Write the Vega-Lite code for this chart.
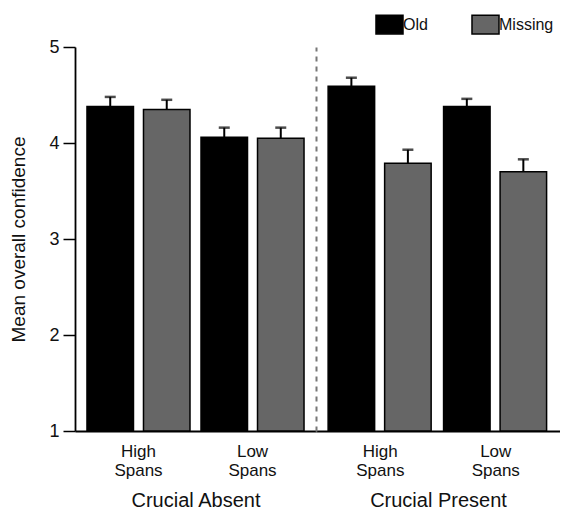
{
  "$schema": "https://vega.github.io/schema/vega-lite/v6.json",
  "datasets": {
    "d": [
      {"crucial": "Absent", "span": "High", "type": "Old", "mean": 4.38, "upper": 4.48},
      {"crucial": "Absent", "span": "High", "type": "Missing", "mean": 4.35, "upper": 4.45},
      {"crucial": "Absent", "span": "Low", "type": "Old", "mean": 4.06, "upper": 4.16},
      {"crucial": "Absent", "span": "Low", "type": "Missing", "mean": 4.05, "upper": 4.16},
      {"crucial": "Present", "span": "High", "type": "Old", "mean": 4.59, "upper": 4.68},
      {"crucial": "Present", "span": "High", "type": "Missing", "mean": 3.79, "upper": 3.93},
      {"crucial": "Present", "span": "Low", "type": "Old", "mean": 4.38, "upper": 4.46},
      {"crucial": "Present", "span": "Low", "type": "Missing", "mean": 3.70, "upper": 3.83}
    ]
  },
  "data": {"name": "d"},
  "padding": {"left": 9, "top": 13, "right": 0, "bottom": 2},
  "spacing": 0,
  "config": {
    "view": {"stroke": null},
    "font": "Liberation Sans",
    "axis": {"grid": false, "labelColor": "#111", "titleColor": "#111", "titleFontWeight": "normal"}
  },
  "hconcat": [
    {
      "width": 241,
      "height": 384,
      "transform": [{"filter": "datum.crucial === 'Absent'"}],
      "encoding": {
        "x": {
          "field": "span", "type": "nominal", "sort": ["High", "Low"],
          "scale": {"paddingInner": 0.0965, "paddingOuter": 0.105},
          "axis": {"title": "Crucial Absent", "labelExpr": "[datum.label, 'Spans']", "labelAngle": 0, "ticks": false,
                   "labelFontSize": 17, "labelLineHeight": 19, "labelPadding": 12, "titleFontSize": 20, "titlePadding": 12,
                   "domainColor": "#000", "domainWidth": 1.8}
        },
        "xOffset": {"field": "type", "type": "nominal", "sort": ["Old", "Missing"], "scale": {"paddingInner": 0.177}}
      },
      "layer": [
        {
          "mark": {"type": "bar", "stroke": "#000", "strokeWidth": 1.5},
          "encoding": {
            "y": {"field": "mean", "type": "quantitative",
                  "scale": {"domain": [1, 5], "zero": false, "nice": false},
                  "axis": {"values": [1, 2, 3, 4, 5], "format": "d", "tickSize": 12, "tickColor": "#000", "tickWidth": 1.5,
                           "labelFontSize": 18, "labelPadding": 4, "title": "Mean overall confidence",
                           "titleFontSize": 19, "titlePadding": 20, "domainColor": "#000", "domainWidth": 1.8}},
            "y2": {"datum": 1},
            "color": {"field": "type", "type": "nominal",
                      "scale": {"domain": ["Old", "Missing"], "range": ["#000000", "#666666"]},
                      "legend": {"orient": "none", "legendX": 303, "legendY": -34, "direction": "horizontal", "title": null,
                                 "symbolType": "M-1.3,-0.9L1.3,-0.9L1.3,0.9L-1.3,0.9Z", "symbolSize": 432,
                                 "symbolStrokeColor": "#000", "symbolStrokeWidth": 1.5, "symbolOpacity": 1,
                                 "labelFontSize": 16, "labelOffset": 2, "columnPadding": 40, "labelColor": "#111"}}
          }
        },
        {
          "mark": {"type": "rule", "color": "#000", "strokeWidth": 2},
          "encoding": {"y": {"field": "mean", "type": "quantitative"}, "y2": {"field": "upper"}}
        },
        {
          "mark": {"type": "tick", "color": "#000", "size": 11, "thickness": 2.5},
          "encoding": {"y": {"field": "upper", "type": "quantitative"}}
        }
      ]
    },
    {
      "width": 244,
      "height": 384,
      "transform": [{"filter": "datum.crucial === 'Present'"}],
      "encoding": {
        "x": {
          "field": "span", "type": "nominal", "sort": ["High", "Low"],
          "scale": {"paddingInner": 0.0965, "paddingOuter": 0.105},
          "axis": {"title": "Crucial Present", "labelExpr": "[datum.label, 'Spans']", "labelAngle": 0, "ticks": false,
                   "labelFontSize": 17, "labelLineHeight": 19, "labelPadding": 12, "titleFontSize": 20, "titlePadding": 12,
                   "domainColor": "#000", "domainWidth": 1.8}
        },
        "xOffset": {"field": "type", "type": "nominal", "sort": ["Old", "Missing"], "scale": {"paddingInner": 0.177}}
      },
      "layer": [
        {
          "mark": {"type": "bar", "stroke": "#000", "strokeWidth": 1.5},
          "encoding": {
            "y": {"field": "mean", "type": "quantitative",
                  "scale": {"domain": [1, 5], "zero": false, "nice": false},
                  "axis": {"labels": false, "ticks": false, "title": null, "domainDash": [5, 5],
                           "domainColor": "#777", "domainWidth": 2}},
            "y2": {"datum": 1},
            "color": {"field": "type", "type": "nominal",
                      "scale": {"domain": ["Old", "Missing"], "range": ["#000000", "#666666"]}}
          }
        },
        {
          "mark": {"type": "rule", "color": "#000", "strokeWidth": 2},
          "encoding": {"y": {"field": "mean", "type": "quantitative"}, "y2": {"field": "upper"}}
        },
        {
          "mark": {"type": "tick", "color": "#000", "size": 11, "thickness": 2.5},
          "encoding": {"y": {"field": "upper", "type": "quantitative"}}
        }
      ]
    }
  ]
}
